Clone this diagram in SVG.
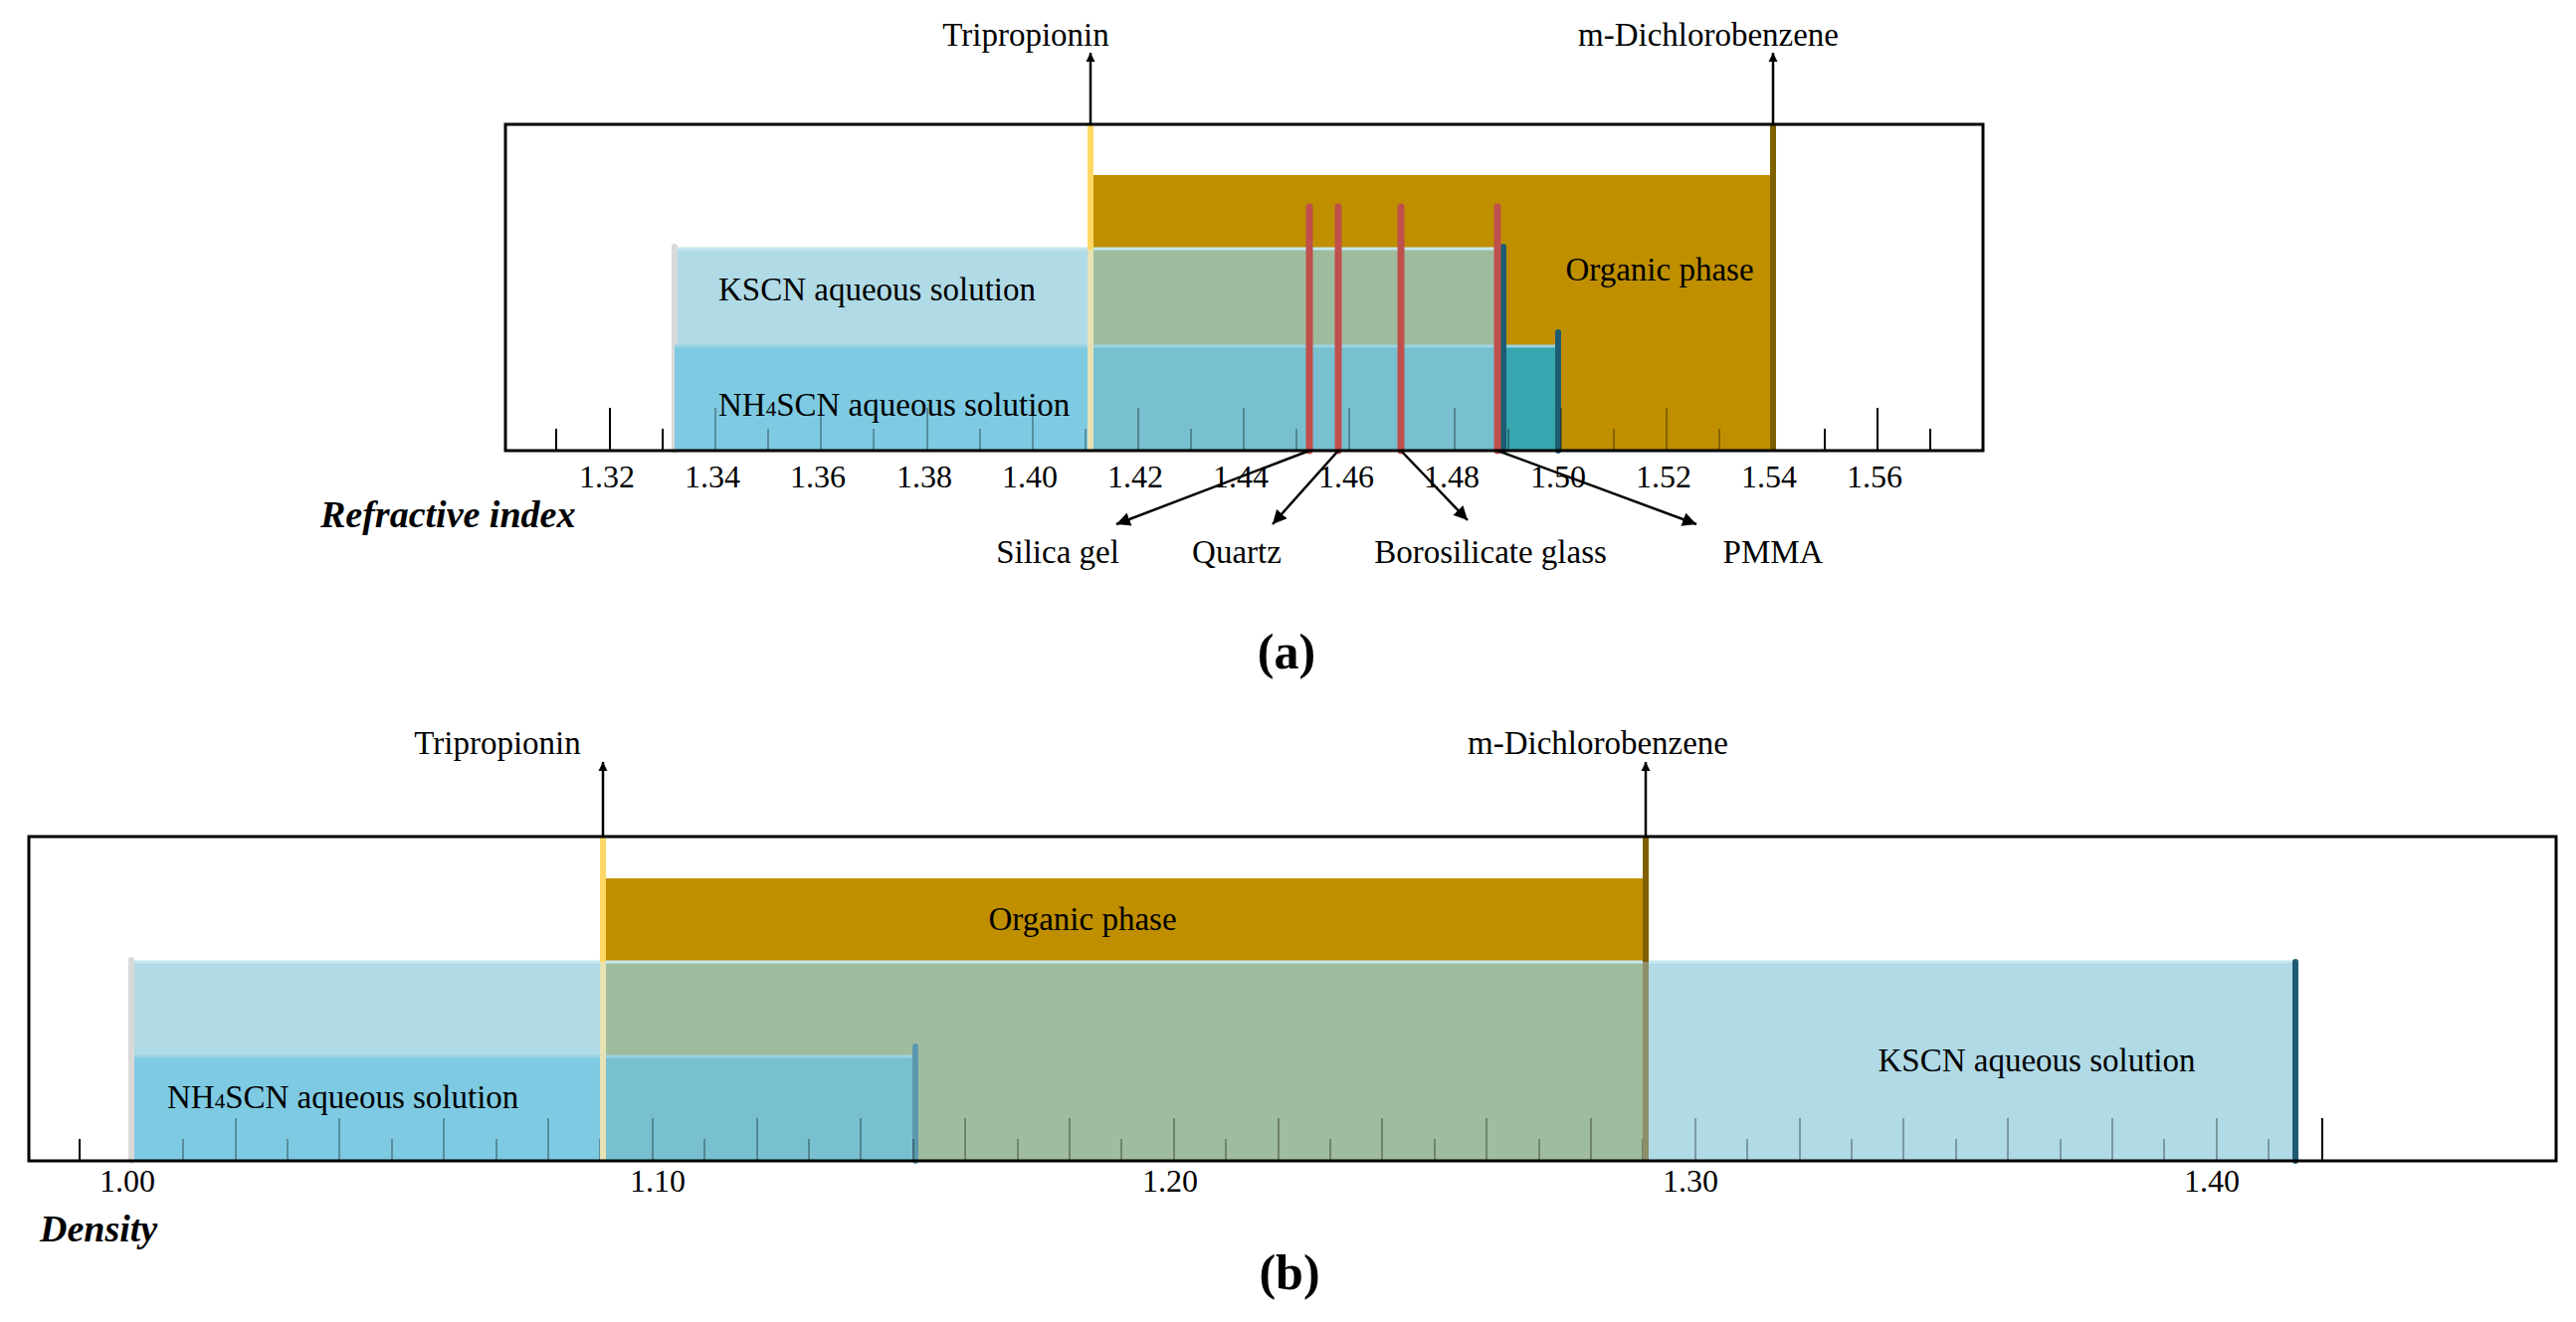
<svg xmlns="http://www.w3.org/2000/svg" width="2589" height="1329" viewBox="0 0 2589 1329">
<style>
text{font-family:"Liberation Serif","Times New Roman",serif;fill:#000}
.t{font-size:33px}
.n{font-size:32px;text-anchor:middle}
.ax{font-size:38px;font-weight:bold;font-style:italic}
.p{font-size:50px;font-weight:bold;text-anchor:middle}
.box{fill:none;stroke:#000;stroke-width:3}
.tk{stroke:#000;stroke-width:2}
.tk2{stroke:#000;stroke-width:2;stroke-opacity:0.3}
.ldr{stroke:#000;stroke-width:2.5;fill:none}
.red{stroke:#C0504D;stroke-width:7;stroke-linecap:round}
</style>
<defs>
<marker id="ah" viewBox="0 0 10 10" refX="10" refY="5" markerWidth="9" markerHeight="12" markerUnits="userSpaceOnUse" orient="auto"><path d="M0,0 L10,5 L0,10 z" fill="#000"/></marker>
<marker id="ab" viewBox="0 0 10 10" refX="10" refY="5" markerWidth="14" markerHeight="14" markerUnits="userSpaceOnUse" orient="auto"><path d="M0,0 L10,5 L0,10 z" fill="#000"/></marker>
</defs>

<!-- Panel (a) -->
<g id="panel-a">
<g id="a-ticks-under">
<path class="tk" d="M559,431V453M613,410V453M666,431V453M719,410V453M772,431V453M825,410V453M878,431V453M932,410V453M985,431V453M1038,410V453M1091,431V453M1144,410V453M1197,431V453M1250,410V453M1303,431V453M1356,410V453M1409,431V453M1462,410V453M1516,431V453M1569,410V453M1622,431V453M1675,410V453M1728,431V453M1781,410V453M1834,431V453M1887,410V453M1940,431V453"/>
</g>
<g id="a-organic"><rect x="1096" y="176" width="686" height="277" fill="#BF8F00"/>
<text class="t" x="1668" y="282" text-anchor="middle">Organic phase</text></g>
<g id="a-kscn">
<rect x="678" y="251" width="418" height="202" fill="#B0DAE6"/>
<rect x="1096" y="251" width="415" height="202" fill="#A0BC9E"/>
<line x1="678" y1="250" x2="1511" y2="250" stroke="#C5E6EE" stroke-width="3"/>
<line x1="678" y1="248" x2="678" y2="453" stroke="#D9D9D9" stroke-width="6" stroke-linecap="round"/>
<text class="t" x="722" y="302">KSCN aqueous solution</text>
</g>
<g id="a-nh4scn">
<rect x="678" y="348" width="418" height="105" fill="#7ECAE2"/>
<rect x="1096" y="348" width="415" height="105" fill="#78C0CF"/>
<rect x="1511" y="348" width="55" height="105" fill="#37A6AE"/>
<line x1="678" y1="348" x2="1566" y2="348" stroke="#9AD3E3" stroke-width="3"/>
<line x1="1511" y1="248" x2="1511" y2="453" stroke="#1F5C73" stroke-width="6" stroke-linecap="round"/>
<line x1="1566" y1="334" x2="1566" y2="453" stroke="#1F5C73" stroke-width="6" stroke-linecap="round"/>
<text class="t" x="722" y="418">NH<tspan font-size="21">4</tspan>SCN aqueous solution</text>
</g>
<g id="a-ticks-over"><path class="tk2" d="M719,410V453M772,431V453M825,410V453M878,431V453M932,410V453M985,431V453M1038,410V453M1091,431V453M1144,410V453M1197,431V453M1250,410V453M1303,431V453M1356,410V453M1409,431V453M1462,410V453M1516,431V453M1569,410V453M1622,431V453M1675,410V453M1728,431V453"/></g>
<g id="a-tripropionin">
<line x1="1096" y1="125" x2="1096" y2="251" stroke="#FFD966" stroke-width="6"/>
<line x1="1096" y1="251" x2="1096" y2="453" stroke="#E6E2B4" stroke-width="6"/>
<text class="t" x="1031" y="46" text-anchor="middle">Tripropionin</text>
</g>
<g id="a-mdcb">
<line x1="1782" y1="125" x2="1782" y2="453" stroke="#7F6000" stroke-width="6"/>
<text class="t" x="1717" y="46" text-anchor="middle">m-Dichlorobenzene</text>
</g>
<g id="a-materials">
<line class="red" x1="1316" y1="208" x2="1316" y2="453"/>
<line class="red" x1="1345" y1="208" x2="1345" y2="453"/>
<line class="red" x1="1408" y1="208" x2="1408" y2="453"/>
<line class="red" x1="1505" y1="208" x2="1505" y2="453"/>
<text class="t" x="1063" y="566" text-anchor="middle">Silica gel</text>
<text class="t" x="1243" y="566" text-anchor="middle">Quartz</text>
<text class="t" x="1498" y="566" text-anchor="middle">Borosilicate glass</text>
<text class="t" x="1782" y="566" text-anchor="middle">PMMA</text>
</g>
<rect class="box" x="508" y="125" width="1485" height="328"/>
<g id="a-labels">
<text class="n" x="610" y="490">1.32</text><text class="n" x="716" y="490">1.34</text><text class="n" x="822" y="490">1.36</text><text class="n" x="929" y="490">1.38</text><text class="n" x="1035" y="490">1.40</text><text class="n" x="1141" y="490">1.42</text><text class="n" x="1247" y="490">1.44</text><text class="n" x="1353" y="490">1.46</text><text class="n" x="1459" y="490">1.48</text><text class="n" x="1566" y="490">1.50</text><text class="n" x="1672" y="490">1.52</text><text class="n" x="1778" y="490">1.54</text><text class="n" x="1884" y="490">1.56</text>
<text class="ax" x="322" y="530">Refractive index</text>
<text class="p" x="1293" y="672">(a)</text>
</g>
</g>

<!-- Panel (b) -->
<g id="panel-b">
<g id="b-ticks-under"><path class="tk" d="M80,1145V1167M2334,1124V1167"/></g>
<g id="b-organic"><rect x="606" y="883" width="1048" height="284" fill="#BF8F00"/>
<text class="t" x="1088" y="935" text-anchor="middle">Organic phase</text></g>
<g id="b-kscn">
<rect x="134" y="967" width="472" height="200" fill="#B0DAE6"/>
<rect x="606" y="967" width="1048" height="200" fill="#A0BC9E"/>
<rect x="1654" y="967" width="653" height="200" fill="#B0DAE6"/>
<line x1="134" y1="967" x2="2307" y2="967" stroke="#C5E6EE" stroke-width="3"/>
<line x1="2307" y1="967" x2="2307" y2="1167" stroke="#1F5C73" stroke-width="6" stroke-linecap="round"/>
<text class="t" x="2047" y="1077" text-anchor="middle">KSCN aqueous solution</text>
</g>
<g id="b-nh4scn">
<rect x="134" y="1062" width="472" height="105" fill="#7ECAE2"/>
<rect x="606" y="1062" width="314" height="105" fill="#78C0CF"/>
<line x1="134" y1="1062" x2="920" y2="1062" stroke="#9AD3E3" stroke-width="3"/>
<line x1="920" y1="1052" x2="920" y2="1167" stroke="#5B98AE" stroke-width="6" stroke-linecap="round"/>
<line x1="132" y1="965" x2="132" y2="1167" stroke="#D9D9D9" stroke-width="6" stroke-linecap="round"/>
<text class="t" x="168" y="1114">NH<tspan font-size="21">4</tspan>SCN aqueous solution</text>
</g>
<g id="b-ticks-over"><path class="tk2" d="M184,1145V1167M237,1124V1167M289,1145V1167M341,1124V1167M394,1145V1167M446,1124V1167M499,1145V1167M551,1124V1167M603,1145V1167M656,1124V1167M708,1145V1167M761,1124V1167M813,1145V1167M865,1124V1167M918,1145V1167M970,1124V1167M1023,1145V1167M1075,1124V1167M1127,1145V1167M1180,1124V1167M1232,1145V1167M1285,1124V1167M1337,1145V1167M1389,1124V1167M1442,1145V1167M1494,1124V1167M1547,1145V1167M1599,1124V1167M1651,1145V1167M1704,1124V1167M1756,1145V1167M1809,1124V1167M1861,1145V1167M1913,1124V1167M1966,1145V1167M2018,1124V1167M2071,1145V1167M2123,1124V1167M2175,1145V1167M2228,1124V1167M2280,1145V1167"/></g>
<g id="b-tripropionin">
<line x1="606" y1="841" x2="606" y2="967" stroke="#FFD966" stroke-width="6"/>
<line x1="606" y1="967" x2="606" y2="1167" stroke="#E6E2B4" stroke-width="6"/>
<text class="t" x="500" y="758" text-anchor="middle">Tripropionin</text>
</g>
<g id="b-mdcb">
<line x1="1654" y1="841" x2="1654" y2="967" stroke="#7F6000" stroke-width="6"/>
<line x1="1654" y1="967" x2="1654" y2="1167" stroke="#8F8F6A" stroke-width="6"/>
<text class="t" x="1606" y="758" text-anchor="middle">m-Dichlorobenzene</text>
</g>
<rect class="box" x="29" y="841" width="2540" height="326"/>
<g id="b-labels">
<text class="n" x="128" y="1198">1.00</text><text class="n" x="661" y="1198">1.10</text><text class="n" x="1176" y="1198">1.20</text><text class="n" x="1699" y="1198">1.30</text><text class="n" x="2223" y="1198">1.40</text>
<text class="ax" x="40" y="1248">Density</text>
<text class="p" x="1296" y="1296">(b)</text>
</g>
</g>

<g id="connectors">
<line class="ldr" x1="1096" y1="125" x2="1096" y2="53" marker-end="url(#ah)"/>
<line class="ldr" x1="1782" y1="125" x2="1782" y2="53" marker-end="url(#ah)"/>
<line class="ldr" x1="606" y1="841" x2="606" y2="766" marker-end="url(#ah)"/>
<line class="ldr" x1="1654" y1="841" x2="1654" y2="766" marker-end="url(#ah)"/>
<line class="ldr" x1="1316" y1="453" x2="1122" y2="527" marker-end="url(#ab)"/>
<line class="ldr" x1="1345" y1="453" x2="1279" y2="527" marker-end="url(#ab)"/>
<line class="ldr" x1="1408" y1="453" x2="1475" y2="523" marker-end="url(#ab)"/>
<line class="ldr" x1="1505" y1="453" x2="1705" y2="527" marker-end="url(#ab)"/>
</g>
</svg>
